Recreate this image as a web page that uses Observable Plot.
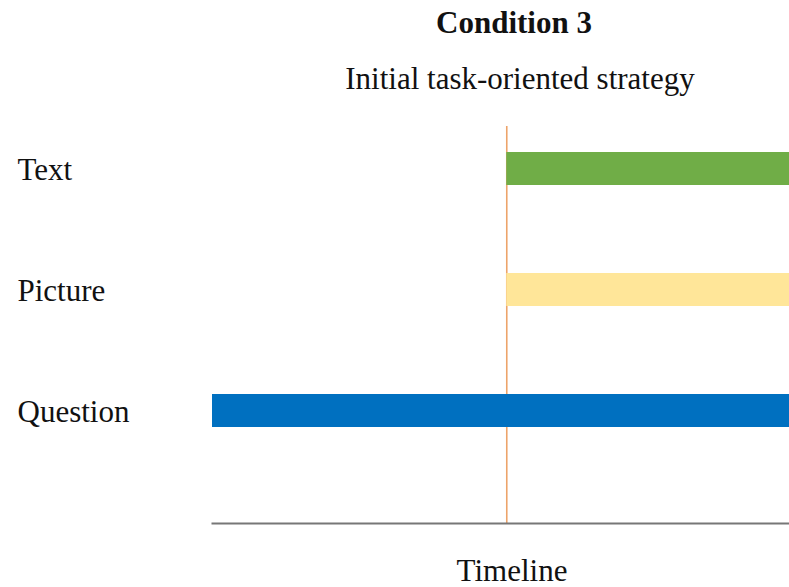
<!DOCTYPE html>
<html>
<head>
<meta charset="utf-8">
<script src="https://cdn.jsdelivr.net/npm/d3@7"></script>
<script src="https://cdn.jsdelivr.net/npm/@observablehq/plot@0.6"></script>
<style>
  html, body { margin: 0; padding: 0; background: #fff; }
  #wrap { position: relative; width: 789px; height: 587px; overflow: hidden;
          font-family: "Liberation Serif", "Times New Roman", serif; color: #111; }
  .t { position: absolute; width: 789px; text-align: center; font-size: 31px; line-height: 31px; white-space: nowrap; }
  #title { top: 7px; font-weight: bold; left: 119.5px; }
  #subtitle { top: 63px; left: 125.5px; }
  #xlabel { top: 555px; left: 117.5px; }
  #chart { position: absolute; left: 0; top: 100px; }
</style>
</head>
<body>
<div id="wrap">
  <div class="t" id="title">Condition 3</div>
  <div class="t" id="subtitle">Initial task-oriented strategy</div>
  <div id="chart"></div>
  <div class="t" id="xlabel">Timeline</div>
</div>
<script>
// Data
const categories = ["Text", "Picture", "Question"];
const starts = [0.51, 0.51, 0];
const ends = [1, 1, 1];
const onset = 0.51;
const palette = ["#70AD47", "#FFE699", "#0070C0"];

const rows = categories.map((c, i) => ({category: c, start: starts[i], end: ends[i]}));

const chart = Plot.plot({
  width: 789,
  height: 440,
  marginLeft: 212,
  marginRight: 0,
  marginTop: 26,
  marginBottom: 17,
  style: {fontFamily: "'Liberation Serif', 'Times New Roman', serif", background: "transparent", overflow: "visible"},
  x: {domain: [0, 1], axis: null},
  y: {domain: categories, range: [7.9, 371.65], paddingInner: 0.728, paddingOuter: 0.364, axis: null},
  color: {domain: categories, range: palette},
  marks: [
    Plot.ruleX([onset], {stroke: "#EDA46A", strokeWidth: 1.6}),
    Plot.barX(rows, {y: "category", x1: "start", x2: "end", fill: "category"}),
    Plot.frame({anchor: "bottom", stroke: "#777", strokeWidth: 2}),
    Plot.text(categories, {y: d => d, frameAnchor: "left", dx: -195, dy: 1, textAnchor: "start", fontSize: 31, fill: "#111"})
  ]
});
document.getElementById("chart").appendChild(chart);
</script>
</body>
</html>
